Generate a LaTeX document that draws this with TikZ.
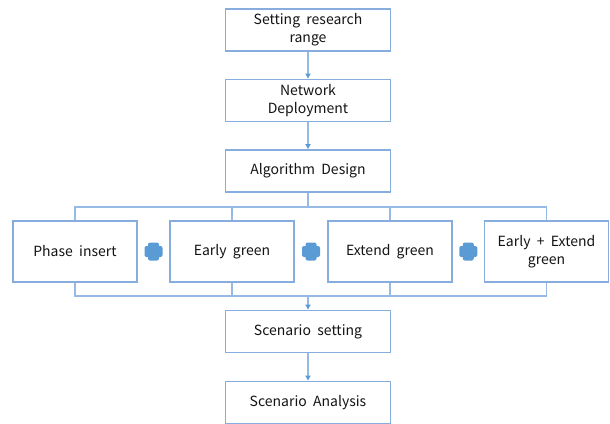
\documentclass[tikz,border=0pt]{standalone}
\usepackage{fontspec}
\setmainfont{Noto Sans CJK KR}
\usepackage{tikz}
\usetikzlibrary{arrows.meta,positioning,calc}
\definecolor{boxblue}{RGB}{135,173,222}
\definecolor{lineblue}{RGB}{150,186,228}
\definecolor{plusblue}{RGB}{91,155,213}
\definecolor{textgray}{RGB}{20,20,20}

\begin{document}
\begin{tikzpicture}[x=0.75pt, y=-0.75pt,
    stage/.style={draw=boxblue, line width=0.8pt, fill=white, rectangle, align=center,
        minimum width=123.75pt, minimum height=31.5pt, inner sep=1pt,
        font=\fontsize{10.5}{13.5}\selectfont, text=textgray},
    method/.style={stage, minimum width=93pt, minimum height=45.75pt},
    bus/.style={draw=lineblue, line width=0.8pt},
    flow/.style={bus, -{Latex[length=4pt,width=4.5pt,color=plusblue]}}]
    \useasboundingbox (0,0) rectangle (610,424);

    % main chain
    \node[stage] (range) at (308,30) {Setting\ \ research\\range};
    \node[stage] (deploy) at (308,100.5) {Network\\Deployment};
    \node[stage] (design) at (308,171) {Algorithm\ \ Design};

    % methods
    \node[method] (insert) at (75,251.5) {Phase\ \ insert};
    \node[method] (early) at (232,251.5) {Early\ \ green};
    \node[method] (extend) at (390,251.5) {Extend\ \ green};
    \node[method] (both) at (546.5,251.5) {Early\ \ +\ \ Extend\\green};

    \node[stage] (setting) at (308,331.5) {Scenario\ \ setting};
    \node[stage] (analysis) at (308,402.5) {Scenario\ \ Analysis};

    \coordinate (top) at (308,207);
    \coordinate (bot) at (308,296);

    \draw[flow] (range) -- (deploy);
    \draw[flow] (deploy) -- (design);
    \draw[bus] (design) -- (top);
    \draw[bus] (insert.north) |- (top) -| (both.north);
    \draw[bus] (early.north) -- (early.north |- top);
    \draw[bus] (extend.north) -- (extend.north |- top);
    \draw[bus] (insert.south) |- (bot) -| (both.south);
    \draw[bus] (early.south) -- (early.south |- bot);
    \draw[bus] (extend.south) -- (extend.south |- bot);
    \draw[flow] (bot) -- (setting);
    \draw[flow] (setting) -- (analysis);

    % plus signs
    \foreach \a/\b in {insert/early, early/extend, extend/both} {
        \coordinate (p) at ($(\a.east)!0.5!(\b.west)$);
        \fill[plusblue, rounded corners=1.5pt] ($(p)+(-9,-5.5)$) rectangle ($(p)+(9,5.5)$);
        \fill[plusblue, rounded corners=1.5pt] ($(p)+(-5.5,-9)$) rectangle ($(p)+(5.5,9)$);
    }
\end{tikzpicture}
\end{document}
